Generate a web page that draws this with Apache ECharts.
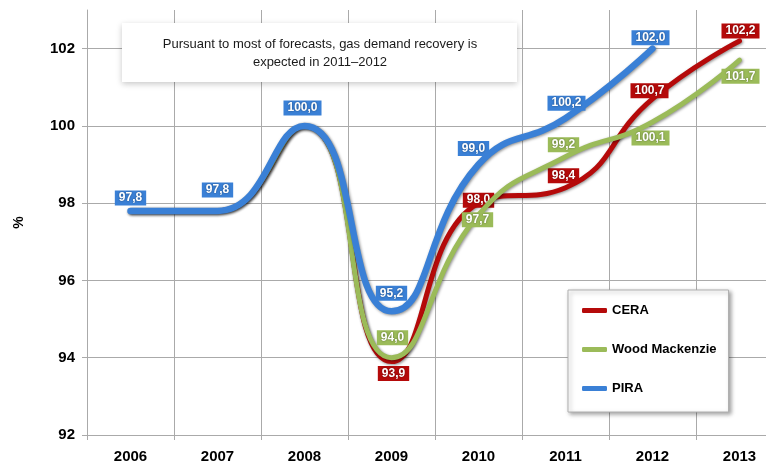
<!DOCTYPE html>
<html>
<head>
<meta charset="utf-8">
<script src="https://cdn.jsdelivr.net/npm/echarts@6/dist/echarts.min.js"></script>
<style>
  html, body { margin: 0; padding: 0; background: #fff; }
  #chart { width: 766px; height: 464px; }
</style>
</head>
<body>
<div id="chart"></div>
<script>
// Gas demand forecasts, index (2008 = 100)
const years = ['2006', '2007', '2008', '2009', '2010', '2011', '2012', '2013'];
const cera = [97.8, 97.8, 100.0, 93.9, 98.0, 98.4, 100.7, 102.2];
const woodMackenzie = [97.8, 97.8, 100.0, 94.0, 97.7, 99.2, 100.1, 101.7];
const pira = [97.8, 97.8, 100.0, 95.2, 99.0, 100.2, 102.0, null];
const seriesNames = ['CERA', 'Wood Mackenzie', 'PIRA'];
const yMin = 92, yMax = 103, yStep = 2;
const noteText = 'Pursuant to most of forecasts, gas demand recovery is\nexpected in 2011\u20132012';

// Which points carry a value tag, and where the tag sits relative to the point
const ceraTags = { 3: [2, 12], 4: [0, -3], 5: [-2, -12], 6: [-3, -8], 7: [1, -10] };
const woodTags = { 3: [1, -20], 4: [-1, 5], 5: [-2, -12], 6: [-2, 16], 7: [1, 16] };
const piraTags = { 0: [0, -13], 1: [0, -21], 2: [-2, -18], 3: [0, -18], 4: [-5, -16], 5: [1, -15], 6: [-2, -11] };

const FONT = '"Liberation Sans", Arial, sans-serif';
const GRID_GRAY = '#aaaaaa';
const colors = { cera: '#b50a0a', wood: '#9bbb59', pira: '#3a80d6' };

function fmt(v) { return v.toFixed(1).replace('.', ','); }

function buildData(values, tags, color) {
  return values.map((v, i) => {
    if (v === null) return null;
    const item = { value: v };
    if (tags[i]) {
      item.label = {
        show: true,
        position: 'inside',
        offset: tags[i],
        formatter: p => fmt(p.value),
        backgroundColor: color,
        color: '#fff',
        fontFamily: FONT,
        fontSize: 12,
        fontWeight: 'bold',
        padding: [2, 4, 1, 4],
        textShadowColor: 'rgba(0,0,0,0.45)',
        textShadowBlur: 2
      };
    }
    return item;
  });
}

function lineSeries(name, values, tags, color, width, z) {
  return {
    name,
    type: 'line',
    smooth: 0.5,
    z,
    symbol: 'circle',
    symbolSize: 1,
    showSymbol: true,
    itemStyle: { color },
    lineStyle: {
      color,
      width,
      cap: 'round',
      shadowColor: 'rgba(0,0,0,0.45)',
      shadowBlur: 3,
      shadowOffsetX: 1,
      shadowOffsetY: 1
    },
    label: { show: false },
    data: buildData(values, tags, color)
  };
}

const chart = echarts.init(document.getElementById('chart'), null, { renderer: 'canvas' });

chart.setOption({
  backgroundColor: '#ffffff',
  animation: false,
  // the plot runs past the right edge, so the last column is cut off
  grid: {
    left: 87, width: 696, top: 10, bottom: 29,
    containLabel: false,
    outerBoundsMode: 'none'
  },
  xAxis: {
    type: 'category',
    data: years,
    boundaryGap: true,
    axisLine: { show: true, lineStyle: { color: GRID_GRAY, width: 1 } },
    axisTick: { show: true, length: 5, lineStyle: { color: GRID_GRAY } },
    axisLabel: { color: '#000', fontFamily: FONT, fontSize: 15, fontWeight: 'bold', margin: 14 },
    splitLine: { show: true, lineStyle: { color: GRID_GRAY, width: 1 } }
  },
  yAxis: {
    type: 'value',
    min: yMin,
    max: yMax,
    interval: yStep,
    name: '%',
    nameLocation: 'middle',
    nameRotate: 90,
    nameGap: 61,
    nameTextStyle: { color: '#000', fontFamily: FONT, fontSize: 14, fontWeight: 'bold' },
    axisLine: { show: true, lineStyle: { color: GRID_GRAY, width: 1 } },
    axisTick: { show: true, length: 5, lineStyle: { color: GRID_GRAY } },
    axisLabel: {
      color: '#000', fontFamily: FONT, fontSize: 15, fontWeight: 'bold', margin: 12,
      showMaxLabel: false
    },
    splitLine: { show: true, showMaxLine: false, lineStyle: { color: GRID_GRAY, width: 1 } }
  },
  legend: {
    data: seriesNames,
    orient: 'vertical',
    left: 568,
    top: 290,
    padding: [14, 12, 17, 14],
    itemGap: 26,
    itemWidth: 25,
    itemHeight: 5,
    icon: 'roundRect',
    textStyle: { color: '#000', fontFamily: FONT, fontSize: 13, fontWeight: 'bold' },
    backgroundColor: '#ffffff',
    borderColor: '#b0b0b0',
    borderWidth: 1,
    shadowColor: 'rgba(0,0,0,0.35)',
    shadowBlur: 4,
    shadowOffsetX: 2,
    shadowOffsetY: 2
  },
  graphic: [
    {
      type: 'rect',
      z: 5,
      shape: { x: 122, y: 23, width: 395, height: 59 },
      style: {
        fill: '#ffffff',
        shadowColor: 'rgba(0,0,0,0.22)',
        shadowBlur: 6,
        shadowOffsetY: 2
      }
    },
    {
      type: 'text',
      z: 6,
      x: 320,
      y: 53,
      style: {
        text: noteText,
        fill: '#1a1a1a',
        font: '13px ' + FONT,
        lineHeight: 18,
        align: 'center',
        verticalAlign: 'middle'
      }
    }
  ],
  series: [
    lineSeries(seriesNames[0], cera, ceraTags, colors.cera, 5, 2),
    lineSeries(seriesNames[1], woodMackenzie, woodTags, colors.wood, 5, 3),
    lineSeries(seriesNames[2], pira, piraTags, colors.pira, 6.5, 4)
  ]
});
</script>
</body>
</html>
